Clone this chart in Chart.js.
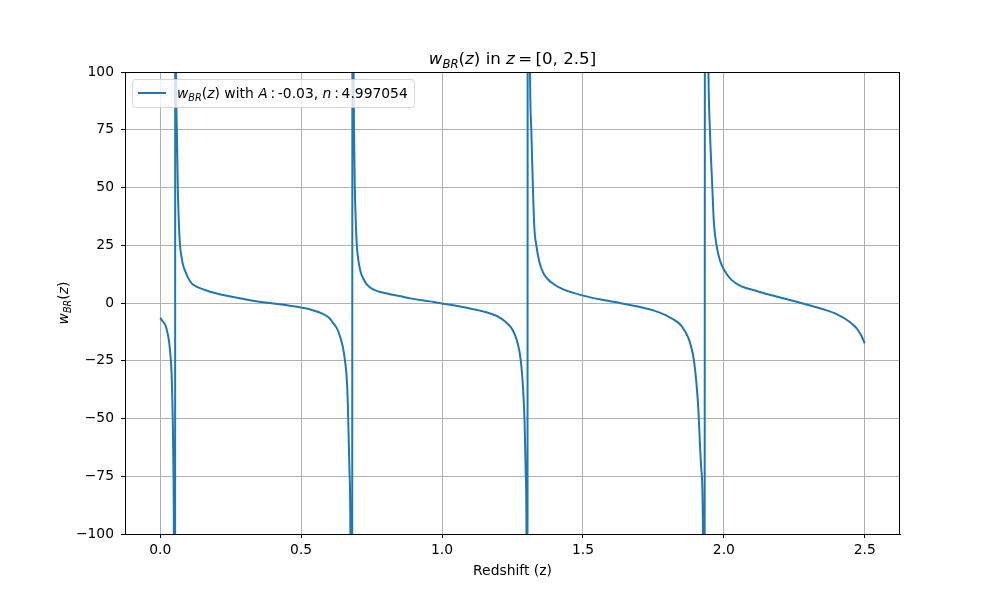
<!DOCTYPE html>
<html>
<head>
<meta charset="utf-8">
<script src="https://cdn.jsdelivr.net/npm/chart.js@4"></script>
<style>
  html, body { margin: 0; padding: 0; background: #ffffff; }
  #wrap { width: 1000px; height: 600px; }
</style>
</head>
<body>
<div id="wrap"><canvas id="chart" width="1000" height="600"></canvas></div>
<script>
// values, one pair of arrays per branch
const seg0Z = [0, 0.008, 0.0177, 0.024, 0.0296, 0.034, 0.038, 0.0405, 0.0426, 0.045, 0.0473, 0.0485, 0.0525];
const seg0W = [-6.4, -7.8, -9.5, -12, -15.3, -19.5, -25.4, -31, -40, -54, -76, -100, -400];

const seg1Z = [0.0535, 0.0545, 0.0565, 0.059, 0.0624, 0.066, 0.0702, 0.0755, 0.0809, 0.088, 0.0986, 0.1117, 0.127, 0.1589, 0.1943, 0.2404, 0.3006, 0.3715, 0.39,
  0.45, 0.5, 0.538, 0.5734, 0.5982, 0.6145, 0.6284, 0.6383, 0.6479, 0.656, 0.6621, 0.6656, 0.6713, 0.6748, 0.6805];
const seg1W = [400, 200, 100, 75, 50, 35, 25, 20, 16.5, 14, 11, 8.5, 7.2, 5.6, 4.3, 3.0, 1.6, 0.2, 0,
  -1.0, -2.0, -3.0, -4.5, -6.3, -8.8, -11.3, -14.6, -19, -25.4, -33, -43.4, -72, -100, -400];

const seg2Z = [0.6825, 0.6838, 0.6862, 0.6876, 0.6904, 0.694, 0.6975, 0.7015, 0.7057, 0.7121, 0.7209, 0.7316, 0.7507, 0.7742, 0.8085, 0.8487, 0.8926, 0.957, 0.99,
  1.04, 1.088, 1.135, 1.182, 1.206, 1.223, 1.236, 1.247, 1.258, 1.268, 1.279, 1.288, 1.293, 1.297, 1.2995, 1.3025];
const seg2W = [400, 200, 100, 75, 50, 35, 25, 20, 16.5, 13, 10.5, 8.3, 6.2, 5, 4, 3, 1.9, 0.7, 0,
  -1.0, -2.1, -3.3, -5.0, -6.4, -7.9, -9.4, -11, -13.6, -17.3, -24.5, -38, -52, -74, -100, -400];

const seg3Z = [1.3045, 1.3082, 1.3122, 1.3167, 1.3224, 1.3273, 1.3344, 1.345, 1.3578, 1.3734, 1.3993, 1.4302, 1.4642, 1.501, 1.56, 1.631,
  1.702, 1.75, 1.797, 1.838, 1.853, 1.872, 1.883, 1.894, 1.908, 1.92, 1.926, 1.931];
const seg3W = [400, 200, 100, 75, 50, 33, 25, 18, 13.4, 10.5, 7.9, 5.9, 4.5, 3.2, 1.6, 0,
  -1.7, -3.2, -5.5, -8.5, -10.5, -14.6, -18.5, -25, -43, -72, -100, -400];

const seg4Z = [1.9335, 1.939, 1.9453, 1.9505, 1.959, 1.9645, 1.974, 1.9858, 2.001, 2.027, 2.0603, 2.104, 2.1454, 2.193, 2.234, 2.265,
  2.31, 2.352, 2.4, 2.447, 2.465, 2.476, 2.488, 2.5];
const seg4W = [400, 200, 100, 75, 50, 35, 25, 18.5, 14.3, 10, 7.3, 5.6, 4.1, 2.6, 1.3, 0.3,
  -1.2, -2.7, -4.8, -8.2, -10.2, -11.8, -14.2, -17.5];

const xTickValues = [0, 0.5, 1.0, 1.5, 2.0, 2.5];
const yTickValues = [-100, -75, -50, -25, 0, 25, 50, 75, 100];

const FONT = '"DejaVu Sans", sans-serif';
const BLUE = "#1f77b4";
const THIN = "\u2009";

function buildPoints() {
  const pts = [];
  [[seg0Z, seg0W], [seg1Z, seg1W], [seg2Z, seg2W], [seg3Z, seg3W], [seg4Z, seg4W]].forEach(([zs, ws]) => {
    zs.forEach((z, i) => pts.push({ x: z, y: ws[i] }));
  });
  return pts;
}

// text runs (roman / italic / subscript), a bit like matplotlib mathtext
function fontFor(r, size) {
  const s = r.sub ? size * 0.7 : size;
  return `${r.it ? "italic " : ""}${s}px ${FONT}`;
}

function runWidth(ctx, runs, size) {
  let w = 0;
  runs.forEach((r) => {
    ctx.font = fontFor(r, size);
    w += ctx.measureText(r.t).width;
  });
  return w;
}

function drawRuns(ctx, runs, x, y, size, align) {
  let cx = x;
  if (align === "center") cx = x - runWidth(ctx, runs, size) / 2;
  ctx.textAlign = "left";
  ctx.textBaseline = "alphabetic";
  runs.forEach((r) => {
    ctx.font = fontFor(r, size);
    ctx.fillText(r.t, cx, r.sub ? y + size * 0.22 : y);
    cx += ctx.measureText(r.t).width;
  });
}

const wbr = [
  { t: "w", it: true },
  { t: "BR", it: true, sub: true },
  { t: "(" },
  { t: "z", it: true },
  { t: ")" },
];

const decorPlugin = {
  id: "decor",
  afterDraw(chart) {
    const { ctx, chartArea: a } = chart;
    ctx.save();
    // top and right spines
    ctx.strokeStyle = "#000";
    ctx.lineWidth = 1;
    ctx.strokeRect(a.left + 0.5, a.top + 0.5, a.right - a.left - 1, a.bottom - a.top);

    ctx.fillStyle = "#000";
    const mid = (a.left + a.right) / 2;
    // title
    drawRuns(ctx, wbr.concat([{ t: " in " }, { t: "z", it: true }, { t: THIN + "=" + THIN + "[0, 2.5]" }]), mid, 64, 16.67, "center");
    // x label
    drawRuns(ctx, [{ t: "Redshift (z)" }], mid, 575, 13.89, "center");
    // y label
    ctx.save();
    ctx.translate(68, (a.top + a.bottom) / 2);
    ctx.rotate(-Math.PI / 2);
    drawRuns(ctx, wbr, 0, 0, 13.89, "center");
    ctx.restore();

    // legend
    const lx = 132, ly = 79, lw = 282, lh = 28;
    ctx.beginPath();
    ctx.roundRect(lx + 0.5, ly + 0.5, lw, lh, 3);
    ctx.fillStyle = "rgba(255,255,255,0.8)";
    ctx.fill();
    ctx.strokeStyle = "rgba(204,204,204,0.8)";
    ctx.lineWidth = 1;
    ctx.stroke();
    ctx.strokeStyle = BLUE;
    ctx.lineWidth = 2;
    ctx.beginPath();
    ctx.moveTo(138, 93);
    ctx.lineTo(166, 93);
    ctx.stroke();
    ctx.fillStyle = "#000";
    drawRuns(ctx, wbr.concat([
      { t: " with " },
      { t: "A", it: true },
      { t: THIN + ":" + THIN },
      { t: "-0.03, " },
      { t: "n", it: true },
      { t: THIN + ":" + THIN },
      { t: "4.997054" },
    ]), 177, 98, 13.89, "left");
    ctx.restore();
  },
};

new Chart(document.getElementById("chart"), {
  type: "scatter",
  data: {
    datasets: [{
      label: "w_BR(z)",
      data: buildPoints(),
      showLine: true,
      borderColor: BLUE,
      borderWidth: 2,
      pointRadius: 0,
      cubicInterpolationMode: "monotone",
    }],
  },
  options: {
    responsive: false,
    animation: false,
    devicePixelRatio: 1,
    layout: { padding: { left: 0, right: 100, top: 72, bottom: 0 } },
    plugins: { legend: { display: false }, title: { display: false }, tooltip: { enabled: false } },
    scales: {
      x: {
        type: "linear",
        min: -0.125,
        max: 2.625,
        afterBuildTicks: (s) => { s.ticks = xTickValues.map((v) => ({ value: v })); },
        afterFit: (s) => { s.height = 66; },
        grid: { color: "#b0b0b0", lineWidth: 1, tickColor: "#000", tickLength: 4 },
        border: { color: "#000", width: 1 },
        ticks: {
          color: "#000",
          padding: 4,
          maxRotation: 0,
          font: { family: FONT, size: 13.89 },
          callback: (v) => Number(v).toFixed(1),
        },
      },
      y: {
        type: "linear",
        min: -100,
        max: 100,
        afterBuildTicks: (s) => { s.ticks = yTickValues.map((v) => ({ value: v })); },
        afterFit: (s) => { s.width = 125; },
        grid: { color: "#b0b0b0", lineWidth: 1, tickColor: "#000", tickLength: 4 },
        border: { color: "#000", width: 1 },
        ticks: {
          color: "#000",
          padding: 7,
          font: { family: FONT, size: 13.89 },
          callback: (v) => String(v).replace("-", "\u2212"),
        },
      },
    },
  },
  plugins: [decorPlugin],
});
</script>
</body>
</html>
